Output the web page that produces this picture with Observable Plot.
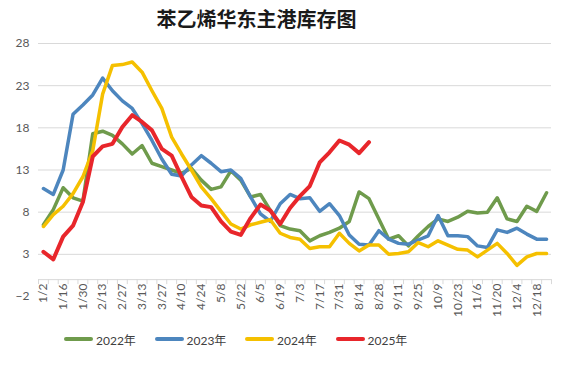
<!DOCTYPE html>
<html><head><meta charset="utf-8">
<script src="https://cdn.jsdelivr.net/npm/d3@7"></script>
<script src="https://cdn.jsdelivr.net/npm/@observablehq/plot@0.6"></script>
<style>
body{margin:0;background:#fff;}
#wrap{width:563px;height:365px;position:relative;overflow:hidden;font-family:Lato,"Noto Sans CJK SC",sans-serif;}
#title{height:34px;line-height:38px;text-align:center;font-family:"Noto Sans CJK SC",sans-serif;font-weight:700;font-size:20px;color:#1a1a1a;padding-right:50px;}
#legend{display:flex;padding-left:64px;height:30px;align-items:center;font-size:12px;color:#404040;}
.item{display:flex;align-items:center;width:90.5px;}
.sw{width:29px;height:4px;border-radius:2px;margin-right:3px;}
svg{display:block;overflow:visible;}
</style></head>
<body>
<div id="wrap">
<div id="title">苯乙烯华东主港库存图</div>
<div id="chart"></div>
<div id="legend"></div>
</div>
<script>
const weeks = ["1/2","1/9","1/16","1/23","1/30","2/6","2/13","2/20","2/27","3/6","3/13","3/20","3/27","4/3","4/10","4/17","4/24","5/1","5/8","5/15","5/22","5/29","6/5","6/12","6/19","6/26","7/3","7/10","7/17","7/24","7/31","8/7","8/14","8/21","8/28","9/4","9/11","9/18","9/25","10/2","10/9","10/16","10/23","10/30","11/6","11/13","11/20","11/27","12/4","12/11","12/18","12/25"];
const seriesNames = ["2022年","2023年","2024年","2025年"];
const seriesColors = ["#6f9b4c","#4d86be","#f5c000","#e8262b"];
const yTicks = [-2,3,8,13,18,23,28];

const v2022 = [6.5,8.3,10.9,9.7,9.3,17.3,17.6,17.1,16.1,14.9,15.9,13.8,13.4,13.0,12.6,13.2,11.8,10.7,11.0,12.9,11.8,9.8,10.1,8.2,6.4,6.0,5.8,4.6,5.2,5.6,6.1,6.9,10.4,9.6,7.2,4.8,5.2,4.0,5.2,6.3,7.2,6.9,7.4,8.1,7.9,8.0,9.7,7.2,6.9,8.7,8.1,10.3];
const v2023 = [10.8,10.1,13.0,19.6,20.7,21.9,23.9,22.4,21.2,20.3,18.5,16.5,14.3,12.5,12.3,13.6,14.7,13.8,12.8,13.0,12.0,9.8,7.8,6.9,9.0,10.1,9.6,9.7,8.1,9.0,7.6,5.3,4.2,4.1,5.8,4.8,4.3,4.2,4.7,5.2,7.6,5.2,5.2,5.1,4.0,3.8,5.9,5.6,6.1,5.4,4.8,4.8];
const v2024 = [6.3,7.7,8.7,10.2,12.2,15.3,22.0,25.4,25.5,25.8,24.6,22.4,20.3,16.9,14.9,13.0,11.0,9.6,8.1,6.6,6.0,6.5,6.8,7.1,5.5,5.0,4.8,3.7,3.9,3.9,5.5,4.3,3.4,4.1,4.1,3.0,3.1,3.3,4.4,3.9,4.6,4.1,3.6,3.5,2.7,3.5,4.3,3.1,1.7,2.7,3.1,3.1];
const v2025 = [3.3,2.4,5.1,6.4,9.2,14.6,15.8,16.1,18.1,19.5,18.7,17.7,15.5,14.7,12.2,9.8,8.8,8.6,6.9,5.7,5.3,7.3,8.9,8.2,6.6,8.5,9.9,11.1,13.9,15.1,16.5,16.0,15.0,16.3];

const allSeries = [v2022, v2023, v2024, v2025];
const rows = allSeries.map(vals => vals.map((v, i) => ({i, v})));

const W = 563, H = 290, mT = 9, mB = 28, mL = 38, mR = 12;
const plotH = H - mT - mB;
const off = plotH * (0 - yTicks[0]) / (yTicks[yTicks.length-1] - yTicks[0]);
const bounds = d3.range(weeks.length + 1).map(k => k - 0.5);
const labelIdx = d3.range(0, weeks.length, 2);

const chart = Plot.plot({
  width: W, height: H,
  marginTop: mT, marginBottom: mB, marginLeft: mL, marginRight: mR,
  style: {fontFamily: 'Lato, "Noto Sans CJK SC", sans-serif', background: "#fff"},
  x: {type: "linear", domain: [-0.5, weeks.length - 0.5], axis: null},
  y: {domain: [yTicks[0], yTicks[yTicks.length-1]], axis: null},
  marks: [
    Plot.gridY(yTicks.slice(1), {stroke: "#d9d9d9", strokeOpacity: 1}),
    Plot.ruleY([0], {stroke: "#d9d9d9", strokeWidth: 1}),
    Plot.axisX(bounds, {tickSize: 5, tickFormat: () => "", stroke: "#d9d9d9", strokeOpacity: 1, dy: -off, label: null}),
    Plot.axisX(labelIdx, {tickFormat: i => weeks[i], tickRotate: -90, tickSize: 0, tickPadding: 4, dy: -off, fontSize: 12, fill: "#595959", label: null}),
    Plot.axisY(yTicks, {tickSize: 0, tickPadding: 9, fontSize: 12, fill: "#595959", label: null}),
    ...rows.map((r, k) => Plot.line(r, {x: "i", y: "v", stroke: seriesColors[k], strokeWidth: k === 3 ? 4 : 3.5, strokeLinejoin: "round", strokeLinecap: "round"}))
  ]
});
document.getElementById("chart").appendChild(chart);

const legend = document.getElementById("legend");
seriesNames.forEach((n, k) => {
  const it = document.createElement("div");
  it.className = "item";
  it.innerHTML = `<span class="sw" style="background:${seriesColors[k]}"></span><span>${n}</span>`;
  legend.appendChild(it);
});
</script>
</body></html>
